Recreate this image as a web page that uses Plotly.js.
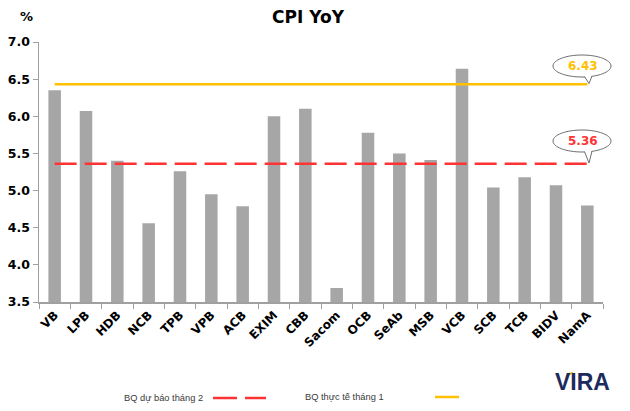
<!DOCTYPE html>
<html>
<head>
<meta charset="utf-8">
<script src="https://cdn.plot.ly/plotly-3.0.1.min.js"></script>
<style>html,body{margin:0;padding:0;background:#fff;}#chart{width:630px;height:411px;}</style>
</head>
<body>
<div id="chart"></div>
<script>
const banks = ["VB","LPB","HDB","NCB","TPB","VPB","ACB","EXIM","CBB","Sacom","OCB","SeAb","MSB","VCB","SCB","TCB","BIDV","NamA"];
const cpiForecast = [6.35,6.07,5.40,4.56,5.26,4.95,4.79,6.00,6.10,3.69,5.78,5.50,5.41,6.64,5.04,5.18,5.07,4.80];
const avgForecastFeb = 5.36;
const avgActualJan = 6.43;
const yTicks = [3.5,4.0,4.5,5.0,5.5,6.0,6.5,7.0];

const F = "DejaVu Sans, Verdana, sans-serif";
const FL = "Liberation Sans Narrow, Liberation Sans, Arial, sans-serif";
const first = banks[0], last = banks[banks.length-1];

const data = [
  {type:"bar", x:banks, y:cpiForecast, marker:{color:"#a6a6a6"}, width:0.4, hoverinfo:"x+y"},
  {type:"scatter", mode:"lines", x:[first,last], y:[avgActualJan,avgActualJan],
   line:{color:"#FFC000", width:2.5}},
  {type:"scatter", mode:"lines", x:[first,last], y:[avgForecastFeb,avgForecastFeb],
   line:{color:"#FF3333", width:2.5, dash:"22px,8px"}}
];

// helpers for px -> paper
const L=39, R=603, T=42, B=302;
const px = v => (v-L)/(R-L);
const py = v => (B-v)/(B-T);
const P = (x,y) => px(x)+","+py(y);

function bubble(cx, cy, rx, ry, tipX, tipY){
  const k = 0.5523;
  const ell = `M ${P(cx+rx,cy)} C ${P(cx+rx,cy+k*ry)} ${P(cx+k*rx,cy+ry)} ${P(cx,cy+ry)} ` +
              `C ${P(cx-k*rx,cy+ry)} ${P(cx-rx,cy+k*ry)} ${P(cx-rx,cy)} ` +
              `C ${P(cx-rx,cy-k*ry)} ${P(cx-k*rx,cy-ry)} ${P(cx,cy-ry)} ` +
              `C ${P(cx+k*rx,cy-ry)} ${P(cx+rx,cy-k*ry)} ${P(cx+rx,cy)} Z`;
  const bl = tipX-4.5, br = tipX+3;
  const yb = x => cy + ry*Math.sqrt(1-Math.pow((x-cx)/rx,2));
  return [
    {type:"path", xref:"paper", yref:"paper", path:ell,
     line:{color:"#6e6e6e", width:1}, fillcolor:"#ffffff", layer:"above"},
    {type:"path", xref:"paper", yref:"paper",
     path:`M ${P(bl, yb(bl)-1.2)} L ${P(tipX, tipY)} L ${P(br, yb(br)-1.2)} Z`,
     line:{color:"#ffffff", width:0}, fillcolor:"#ffffff", layer:"above"},
    {type:"path", xref:"paper", yref:"paper",
     path:`M ${P(bl, yb(bl)-0.3)} L ${P(tipX, tipY)} L ${P(br, yb(br)-0.3)}`,
     line:{color:"#6e6e6e", width:1}, layer:"above"}
  ];
}

const shapes = [
  ...bubble(582, 66, 29, 11, 589, 83.5),
  ...bubble(582, 141, 29, 11, 589, 163),
  // legend samples
  {type:"line", xref:"paper", yref:"paper", x0:px(213), x1:px(237), y0:py(398), y1:py(398), line:{color:"#FF3333", width:2.5}},
  {type:"line", xref:"paper", yref:"paper", x0:px(245), x1:px(266), y0:py(398), y1:py(398), line:{color:"#FF3333", width:2.5}},
  {type:"line", xref:"paper", yref:"paper", x0:px(435), x1:px(459), y0:py(397), y1:py(397), line:{color:"#FFC000", width:2.5}},
  // small accent on the logo
  {type:"line", xref:"paper", yref:"paper", x0:px(568), x1:px(573), y0:py(374), y1:py(373), line:{color:"#F2B705", width:2}}
];

const annotations = [
  {xref:"paper", yref:"paper", x:px(583), y:py(66), xanchor:"center", yanchor:"middle",
   text:"<b>"+avgActualJan.toFixed(2)+"</b>", showarrow:false,
   font:{family:F, size:12, color:"#FFC000"}},
  {xref:"paper", yref:"paper", x:px(583), y:py(141), xanchor:"center", yanchor:"middle",
   text:"<b>"+avgForecastFeb.toFixed(2)+"</b>", showarrow:false,
   font:{family:F, size:12, color:"#FF3333"}},
  {xref:"paper", yref:"paper", x:px(26), y:py(17), xanchor:"center", yanchor:"middle",
   text:"<b>%</b>", showarrow:false, font:{family:F, size:13, color:"#000"}},
  {xref:"paper", yref:"paper", x:px(205), y:py(398), xanchor:"right", yanchor:"middle",
   text:"BQ dự báo tháng 2", showarrow:false, font:{family:FL, size:9.3, color:"#3a3a3a"}},
  {xref:"paper", yref:"paper", x:px(303), y:py(397), xanchor:"left", yanchor:"middle",
   text:"BQ thực tế tháng 1", showarrow:false, font:{family:FL, size:9.3, color:"#3a3a3a"}},
  {xref:"paper", yref:"paper", x:px(582), y:py(381.5), xanchor:"center", yanchor:"middle",
   text:"<b>VIRA</b>", showarrow:false, font:{family:"Liberation Sans, Arial, sans-serif", size:23, color:"#1d2a5c"}}
];

const layout = {
  width:630, height:411,
  margin:{l:L, r:630-R, t:T, b:411-B, pad:0},
  paper_bgcolor:"#fff", plot_bgcolor:"#fff",
  showlegend:false,
  title:{text:"<b>CPI YoY</b>", x:308/630, xanchor:"center", y:1-17/411, yanchor:"middle",
         font:{family:F, size:17, color:"#000"}},
  xaxis:{type:"category", showgrid:false, showline:true, linecolor:"#a0a0a0", linewidth:1.5,
         ticks:"outside", tickson:"boundaries", ticklen:5, tickcolor:"#a0a0a0",
         tickangle:-45, tickfont:{family:F, size:12, color:"#000", weight:"bold"}, fixedrange:true},
  yaxis:{range:[3.5,7.0], tickvals:yTicks, ticktext:yTicks.map(v=>"<b>"+v.toFixed(1)+"</b>"),
         showgrid:false, zeroline:false, showline:true, linecolor:"#a0a0a0", linewidth:1.5,
         ticks:"outside", ticklen:5, tickcolor:"#a0a0a0",
         tickfont:{family:F, size:12.5, color:"#000"}, fixedrange:true},
  shapes:shapes,
  annotations:annotations
};

Plotly.newPlot("chart", data, layout, {displayModeBar:false, staticPlot:true});
</script>
</body>
</html>
